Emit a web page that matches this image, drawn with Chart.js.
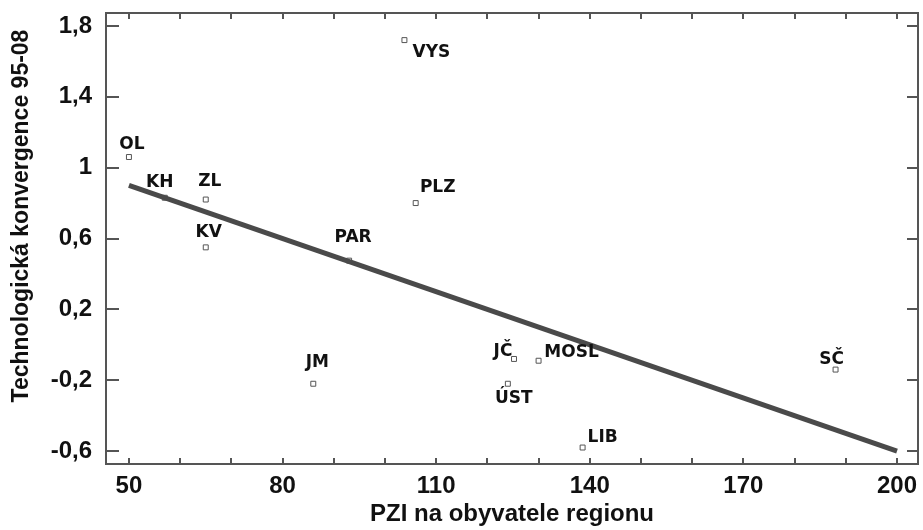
<!DOCTYPE html>
<html>
<head>
<meta charset="utf-8">
<script src="https://cdn.jsdelivr.net/npm/chart.js@4"></script>
<style>
    html, body { margin: 0; padding: 0; background: #fff; }
</style>
</head>
<body>
<canvas id="scatterChart" width="923" height="530"></canvas>
<script>
// data
const regions = ['OL', 'KH', 'ZL', 'KV', 'PAR', 'VYS', 'PLZ', 'JM', 'JČ', 'MOSL', 'ÚST', 'LIB', 'SČ'];
const pziValues = [50, 57, 65, 65, 93, 103.8, 106, 86, 125.2, 130, 124, 138.6, 188];
const convergence = [1.06, 0.83, 0.82, 0.55, 0.475, 1.72, 0.80, -0.22, -0.08, -0.09, -0.22, -0.58, -0.14];
const trendX = [50, 200];
const trendY = [0.90, -0.60];
const xTicks = [50, 60, 70, 80, 90, 100, 110, 120, 130, 140, 150, 160, 170, 180, 190, 200];
const xLabelTicks = [50, 80, 110, 140, 170, 200];
const yTicks = [-0.6, -0.2, 0.2, 0.6, 1, 1.4, 1.8];

// where each region name sits relative to its point (px)
const labelOffsets = [
    [3, -12], [-5, -15], [4, -18], [3, -15], [4, -23], [27, 12], [22, -15],
    [4, -21], [-11, -7], [33, -8], [6, 15], [20, -10], [-4, -10]
];

const AXIS_COLOR = '#555';
const tickFont = { family: 'Liberation Sans, Arial', size: 24, weight: 'bold' };

// rámeček, dovnitř směřující značky, popisky bodů a název osy y
const framePlugin = {
    id: 'frame',
    afterDatasetsDraw(chart) {
        const ctx = chart.ctx;
        const meta = chart.getDatasetMeta(0);
        ctx.save();
        ctx.font = "bold 17px 'DejaVu Sans'";
        ctx.fillStyle = '#111';
        ctx.textAlign = 'center';
        ctx.textBaseline = 'middle';
        meta.data.forEach((pt, i) => {
            const off = labelOffsets[i];
            ctx.fillText(regions[i], pt.x + off[0], pt.y + off[1]);
        });
        ctx.restore();
    },
    afterDraw(chart) {
        const ctx = chart.ctx;
        const a = chart.chartArea;
        const xs = chart.scales.x;
        const ys = chart.scales.y;
        ctx.save();
        ctx.strokeStyle = AXIS_COLOR;
        ctx.lineWidth = 2;
        ctx.strokeRect(a.left, a.top, a.right - a.left, a.bottom - a.top);
        ctx.beginPath();
        xTicks.forEach(v => {
            const px = Math.round(xs.getPixelForValue(v));
            ctx.moveTo(px, a.bottom);
            ctx.lineTo(px, a.bottom - 6);
            ctx.moveTo(px, a.top);
            ctx.lineTo(px, a.top + 6);
        });
        yTicks.forEach(v => {
            const py = Math.round(ys.getPixelForValue(v));
            ctx.moveTo(a.left, py);
            ctx.lineTo(a.left + 13, py);
            ctx.moveTo(a.right, py);
            ctx.lineTo(a.right - 11, py);
        });
        ctx.stroke();

        ctx.translate(22, 216);
        ctx.rotate(-Math.PI / 2);
        ctx.font = "bold 23px 'Liberation Sans', Arial";
        ctx.fillStyle = '#111';
        ctx.textAlign = 'center';
        ctx.textBaseline = 'middle';
        ctx.fillText('Technologická konvergence 95-08', 0, 0);
        ctx.restore();
    }
};

const ctx = document.getElementById('scatterChart').getContext('2d');
const chart = new Chart(ctx, {
    type: 'scatter',
    data: {
        datasets: [{
            label: 'regiony',
            data: pziValues.map((x, i) => ({ x: x, y: convergence[i] })),
            pointStyle: 'rect',
            pointRadius: 3.5,
            pointBorderWidth: 1,
            pointBorderColor: '#555',
            pointBackgroundColor: '#fff',
            order: 2
        }, {
            type: 'line',
            label: 'trend',
            data: trendX.map((x, i) => ({ x: x, y: trendY[i] })),
            borderColor: '#4a4a4a',
            borderWidth: 5,
            pointRadius: 0,
            fill: false,
            order: 1
        }]
    },
    options: {
        responsive: false,
        animation: false,
        devicePixelRatio: 1,
        layout: { padding: { top: 13, right: 3, left: 0, bottom: 0 } },
        scales: {
            x: {
                type: 'linear',
                min: 45.52,
                max: 204.1,
                afterBuildTicks: s => { s.ticks = xTicks.map(v => ({ value: v })); },
                afterFit: s => {
                    s.height = 66;
                    s.paddingLeft = 0;
                    s.paddingRight = 0;
                },
                grid: { display: false, drawTicks: false },
                border: { display: false },
                ticks: {
                    autoSkip: false,
                    maxRotation: 0,
                    padding: 8,
                    color: '#111',
                    font: tickFont,
                    callback: v => xLabelTicks.includes(v) ? String(v) : ''
                },
                title: {
                    display: true,
                    text: 'PZI na obyvatele regionu',
                    color: '#111',
                    font: { family: 'Liberation Sans, Arial', size: 24, weight: 'bold' },
                    padding: { top: 0, bottom: 1 }
                }
            },
            y: {
                type: 'linear',
                min: -0.673,
                max: 1.873,
                afterBuildTicks: s => { s.ticks = yTicks.map(v => ({ value: v })); },
                afterFit: s => {
                    s.width = 106;
                    s.paddingTop = 0;
                    s.paddingBottom = 0;
                },
                grid: { display: false, drawTicks: false },
                border: { display: false },
                ticks: {
                    padding: 14,
                    color: '#111',
                    font: tickFont,
                    callback: v => String(v).replace('.', ',')
                },
                title: { display: false }
            }
        },
        plugins: {
            legend: { display: false },
            tooltip: { enabled: false }
        }
    },
    plugins: [framePlugin]
});
</script>
</body>
</html>
